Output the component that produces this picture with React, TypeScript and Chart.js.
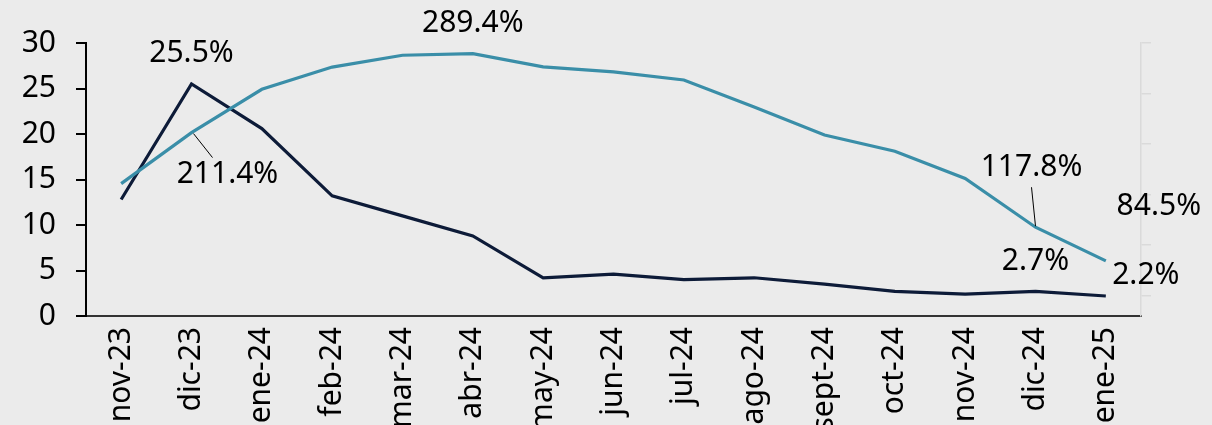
import React, { useEffect, useRef } from "react";
import { Chart, registerables } from "chart.js";

Chart.register(...registerables);

const categories = [
  "nov-23", "dic-23", "ene-24", "feb-24", "mar-24", "abr-24", "may-24", "jun-24",
  "jul-24", "ago-24", "sept-24", "oct-24", "nov-24", "dic-24", "ene-25",
];
// Monthly inflation (%), left axis
const monthly = [12.8, 25.5, 20.6, 13.2, 11.0, 8.8, 4.2, 4.6, 4.0, 4.2, 3.5, 2.7, 2.4, 2.7, 2.2];
// Year-on-year inflation (%), right axis
const annual = [160.9, 211.4, 254.2, 276.2, 287.9, 289.4, 276.4, 271.5, 263.4, 236.7, 209.0, 193.0, 166.0, 117.8, 84.5];

const leftTicks = [0, 5, 10, 15, 20, 25, 30];
const rightTicks = [50, 100, 150, 200, 250, 300];

// Callout labels: which series, which point, text, offset of the label, optional leader
const callouts = [
  { series: "monthly", index: 1, text: "25.5%", dx: 0, dy: -30 },
  { series: "annual", index: 1, text: "211.4%", dx: 36, dy: 42, leader: [2, 1, 21, 25] },
  { series: "annual", index: 5, text: "289.4%", dx: 0, dy: -30 },
  { series: "annual", index: 13, text: "117.8%", dx: -4, dy: -60, leader: [-4, -40, 0, -1] },
  { series: "annual", index: 14, text: "84.5%", dx: 53, dy: -54 },
  { series: "monthly", index: 13, text: "2.7%", dx: 0, dy: -30 },
  { series: "monthly", index: 14, text: "2.2%", dx: 40, dy: -21 },
];

const FONT = "'Noto Sans', 'Open Sans', sans-serif";
const FONT_SIZE = 30;
const CANVAS_H = 480;
const AXIS_BOTTOM = 316;

const calloutPlugin = {
  id: "callouts",
  afterDatasetsDraw(chart: any) {
    const ctx = chart.ctx;
    const x = chart.scales.x;
    ctx.save();
    ctx.font = `${FONT_SIZE}px ${FONT}`;
    ctx.fillStyle = "#000";
    ctx.textAlign = "center";
    ctx.textBaseline = "middle";
    for (const c of callouts) {
      const isMonthly = c.series === "monthly";
      const scale = isMonthly ? chart.scales.y : chart.scales.y1;
      const v = isMonthly ? monthly[c.index] : annual[c.index];
      const px = x.getPixelForValue(c.index);
      const py = scale.getPixelForValue(v);
      if (c.leader) {
        ctx.strokeStyle = "#000";
        ctx.lineWidth = 1;
        ctx.beginPath();
        ctx.moveTo(px + c.leader[0], py + c.leader[1]);
        ctx.lineTo(px + c.leader[2], py + c.leader[3]);
        ctx.stroke();
      }
      ctx.fillText(c.text, px + c.dx, py + c.dy);
    }
    ctx.restore();
  },
};

export default function App() {
  const ref = useRef<HTMLCanvasElement>(null);

  useEffect(() => {
    if (!ref.current) return;
    const chart = new Chart(ref.current, {
      type: "line",
      data: {
        labels: categories,
        datasets: [
          {
            label: "Interanual",
            data: annual,
            yAxisID: "y1",
            borderColor: "#3a8ea8",
            borderWidth: 3.2,
            pointRadius: 0,
            tension: 0,
          },
          {
            label: "Mensual",
            data: monthly,
            yAxisID: "y",
            borderColor: "#0d1b38",
            borderWidth: 3.2,
            pointRadius: 0,
            tension: 0,
          },
        ],
      },
      options: {
        animation: false,
        responsive: false,
        maintainAspectRatio: false,
        layout: { padding: { top: 43, left: 0, right: 0, bottom: 0 } },
        plugins: {
          legend: { display: false },
          tooltip: { enabled: false },
        },
        scales: {
          x: {
            type: "category",
            offset: true,
            grid: { display: false, drawTicks: false },
            border: { display: true, color: "#333", width: 2 },
            ticks: {
              autoSkip: false,
              minRotation: 90,
              maxRotation: 90,
              padding: 11,
              color: "#000",
              font: { family: FONT, size: FONT_SIZE },
            },
            afterFit: (s: any) => {
              s.height = CANVAS_H - AXIS_BOTTOM;
            },
          },
          y: {
            position: "left",
            min: 0,
            max: 30,
            grid: { drawOnChartArea: false, drawTicks: true, tickLength: 10, color: "#000", lineWidth: 2 },
            border: { display: true, color: "#000", width: 2 },
            afterBuildTicks: (s: any) => {
              s.ticks = leftTicks.map((v) => ({ value: v }));
            },
            ticks: {
              padding: 20,
              color: "#000",
              font: { family: FONT, size: FONT_SIZE },
            },
            afterFit: (s: any) => {
              s.width = 86;
            },
          },
          y1: {
            position: "right",
            min: 30,
            max: 300,
            grid: { drawOnChartArea: false, drawTicks: true, tickLength: 10, color: "#dadada", lineWidth: 1.5 },
            border: { display: true, color: "#dadada", width: 1.5 },
            afterBuildTicks: (s: any) => {
              s.ticks = rightTicks.map((v) => ({ value: v }));
            },
            ticks: { display: true, color: "rgba(0,0,0,0)", font: { family: FONT, size: 10 } },
            afterFit: (s: any) => {
              s.width = 1212 - 1141;
            },
          },
        },
      },
      plugins: [calloutPlugin],
    });
    return () => chart.destroy();
  }, []);

  return (
    <div
      style={{
        position: "absolute",
        left: 0,
        top: 0,
        width: 1212,
        height: 425,
        overflow: "hidden",
        background: "#ebebeb",
      }}
    >
      <canvas ref={ref} width={1212} height={CANVAS_H} style={{ display: "block", width: 1212, height: CANVAS_H }} />
    </div>
  );
}
